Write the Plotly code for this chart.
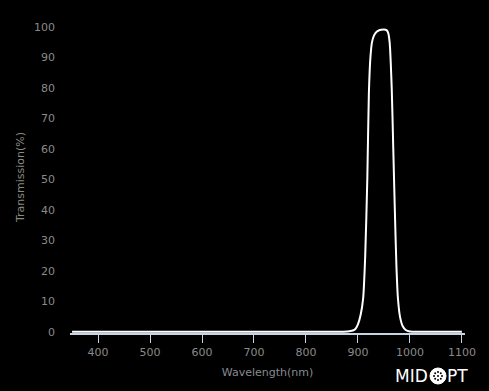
import plotly.graph_objects as go

wavelength = [350, 500, 700, 850, 880, 890, 895, 900, 905, 910, 914, 918, 921, 924, 927, 931, 936,
              940, 945, 950, 955, 958, 961, 965, 968, 971, 974, 977, 981, 986, 992, 1000, 1020, 1100]
transmission = [0.1, 0.1, 0.1, 0.1, 0.2, 0.5, 1.0, 2.5, 5.5, 11, 25, 50, 78, 90, 95, 97.3, 98.5,
                98.9, 99.1, 99.2, 99.0, 98.2, 95, 80, 60, 40, 22, 11, 5, 2, 0.7, 0.2, 0.1, 0.1]

x_ticks = [400, 500, 600, 700, 800, 900, 1000, 1100]
y_ticks = [0, 10, 20, 30, 40, 50, 60, 70, 80, 90, 100]

label_color = "#8a8a8a"
font_family = "DejaVu Sans"

fig = go.Figure()
fig.add_trace(go.Scatter(
    x=wavelength, y=transmission, mode="lines",
    line=dict(color="#ffffff", width=2, shape="spline", smoothing=0.6),
    hoverinfo="skip", showlegend=False,
))

# logo geometry in paper coords (plot area: x 70..465 px, y 21..333 px)
def px_x(p):
    return (p - 70) / 395.0

def px_y(p):
    return (333 - p) / 312.0

logo_y = px_y(376)
shapes = [dict(type="circle", xref="paper", yref="paper",
               x0=px_x(430), x1=px_x(446), y0=px_y(384), y1=px_y(368),
               fillcolor="#ffffff", line=dict(color="#ffffff", width=1))]
# small dots inside the logo "O"
for dx, dy in [(-4, 0), (4, 0), (0, -4), (0, 4), (-2.8, -2.8), (2.8, 2.8), (-2.8, 2.8), (2.8, -2.8), (0, 0)]:
    cx, cy = 438 + dx, 376 + dy
    shapes.append(dict(type="circle", xref="paper", yref="paper",
                       x0=px_x(cx - 1.0), x1=px_x(cx + 1.0), y0=px_y(cy + 1.0), y1=px_y(cy - 1.0),
                       fillcolor="#000000", line=dict(width=0)))

fig.update_layout(
    width=489, height=391,
    margin=dict(l=70, r=24, t=21, b=58),
    paper_bgcolor="#000000", plot_bgcolor="#000000",
    font=dict(family=font_family, size=11, color=label_color),
    xaxis=dict(
        range=[346, 1106], tickvals=x_ticks, ticktext=[str(v) for v in x_ticks],
        showgrid=False, zeroline=False,
        showline=True, linecolor="#c8d4e4", linewidth=1.5,
        ticks="outside", ticklen=8, tickcolor="#c8d4e4", tickwidth=1,
        tickfont=dict(family=font_family, size=11, color=label_color),
        title=dict(text="Wavelength(nm)", font=dict(family=font_family, size=11, color="#878a90"), standoff=10),
    ),
    yaxis=dict(
        range=[-0.3, 102], tickvals=y_ticks, ticktext=[str(v) for v in y_ticks],
        showgrid=False, zeroline=False, showline=False, ticks="",
        ticklabelstandoff=14,
        tickfont=dict(family=font_family, size=11, color=label_color),
        title=dict(text="Transmission(%)", font=dict(family=font_family, size=11, color="#8a8a80"), standoff=7),
    ),
    shapes=shapes,
    annotations=[
        dict(text="MID", xref="paper", yref="paper", x=px_x(430), y=logo_y,
             xanchor="right", yanchor="middle", showarrow=False,
             font=dict(family="DejaVu Sans", size=17, color="#ffffff")),
        dict(text="PT", xref="paper", yref="paper", x=px_x(445), y=logo_y,
             xanchor="left", yanchor="middle", showarrow=False,
             font=dict(family="DejaVu Sans", size=17, color="#ffffff")),
    ],
)

fig.write_html("out.html")
